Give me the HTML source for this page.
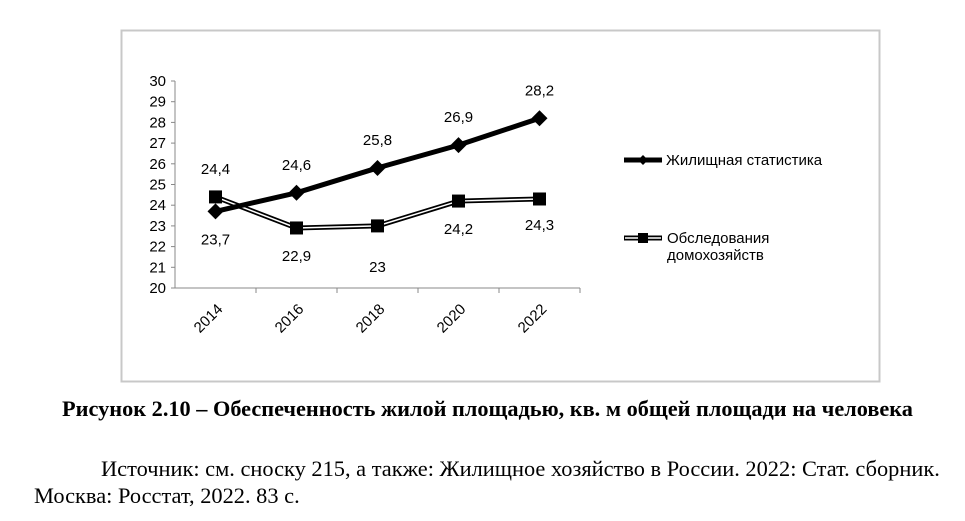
<!DOCTYPE html>
<html><head><meta charset="utf-8"><style>
body{margin:0;width:965px;height:521px;background:#fff;overflow:hidden;position:relative;font-family:"Liberation Sans",sans-serif}
.cap{position:absolute;left:0;width:975px;text-align:center;top:396px;font:bold 22.3px "Liberation Serif",serif;white-space:nowrap}
.src{position:absolute;left:34px;font:22.4px "Liberation Serif",serif;white-space:nowrap}
</style></head><body>
<svg width="965" height="521" style="position:absolute;left:0;top:0">
<rect x="121.5" y="30.5" width="758" height="351" fill="#fff" stroke="#c8c8c8" stroke-width="2"/>
<g id="g"></g>
</svg>
<div class="cap">Рисунок 2.10 – Обеспеченность жилой площадью, кв. м общей площади на человека</div>
<div class="src" style="left:101px;top:456px">Источник: см. сноску 215, а также: Жилищное хозяйство в России. 2022: Стат. сборник.</div>
<div class="src" style="top:483px">Москва: Росстат, 2022. 83 с.</div>
<script>
const categories=["2014","2016","2018","2020","2022"];
const housingStats=[23.7,24.6,25.8,26.9,28.2];
const householdSurvey=[24.4,22.9,23,24.2,24.3];
const yTicks=[20,21,22,23,24,25,26,27,28,29,30];
const housingLabelBelow=[true,false,false,false,false];
const surveyLabelBelow=[false,true,true,true,true];
const NS="http://www.w3.org/2000/svg",g=document.getElementById('g');
const x0=175,x1=580,yb=288,yt=81,band=(x1-x0)/categories.length;
const X=i=>x0+band*(i+0.5),Y=v=>yb-(v-20)/(30-20)*(yb-yt);
function el(t,a){const e=document.createElementNS(NS,t);for(const k in a)e.setAttribute(k,a[k]);g.appendChild(e);return e;}
let e=el('line',{x1:x0,y1:yt,x2:x0,y2:yb,stroke:'#888'});

e=el('line',{x1:x0,y1:yb,x2:x1,y2:yb,stroke:'#888'});

yTicks.forEach(v=>{
 el('line',{x1:x0-4,y1:Y(v),x2:x0,y2:Y(v),stroke:'#888'});
 e=el('text',{x:x0-9,y:Y(v)+5,'text-anchor':'end','font-size':15});e.textContent=v;
 
});
categories.forEach((c,i)=>{
 el('line',{x1:x0+band*(i+1),y1:yb,x2:x0+band*(i+1),y2:yb+5,stroke:'#888'});
 const tx=X(i)+8,ty=yb+22;
 e=el('text',{x:tx,y:ty,'text-anchor':'end','font-size':15,transform:`rotate(-45 ${tx} ${ty})`});e.textContent=c;
 
});
const pts=a=>a.map((v,i)=>X(i)+','+Y(v)).join(' ');
e=el('polyline',{points:pts(householdSurvey),fill:'none',stroke:'#000','stroke-width':5});

el('polyline',{points:pts(householdSurvey),fill:'none',stroke:'#fff','stroke-width':1.5});
householdSurvey.forEach((v,i)=>{
 e=el('rect',{x:X(i)-6.5,y:Y(v)-6.5,width:13,height:13,fill:'#000'});
 
});
e=el('polyline',{points:pts(housingStats),fill:'none',stroke:'#000','stroke-width':5});

housingStats.forEach((v,i)=>{
 const cx=X(i),cy=Y(v);
 e=el('polygon',{points:`${cx},${cy-8} ${cx+8},${cy} ${cx},${cy+8} ${cx-8},${cy}`,fill:'#000'});
 
});
function lbl(a,below,name){a.forEach((v,i)=>{
 const dy=below[i]?(v===23?46:(i===4?31:33)):-23;
 e=el('text',{x:X(i),y:Y(v)+dy,'text-anchor':'middle','font-size':15});e.textContent=String(v).replace('.',',');
 
});}
lbl(housingStats,housingLabelBelow,'housing-stats-value-label');
lbl(householdSurvey,surveyLabelBelow,'survey-value-label');
e=el('line',{x1:624,y1:160,x2:662,y2:160,stroke:'#000','stroke-width':5});

el('polygon',{points:'643,155 648,160 643,165 638,160',fill:'#000'});
e=el('text',{x:666,y:165,'font-size':15});e.textContent='Жилищная статистика';

e=el('line',{x1:624,y1:238,x2:662,y2:238,stroke:'#000','stroke-width':5});

el('line',{x1:625,y1:238,x2:661,y2:238,stroke:'#fff','stroke-width':1.5});
el('rect',{x:638,y:233,width:10,height:10,fill:'#000'});
e=el('text',{x:667,y:243,'font-size':15});e.textContent='Обследования';

e=el('text',{x:667,y:260,'font-size':15});e.textContent='домохозяйств';

</script>
</body></html>
